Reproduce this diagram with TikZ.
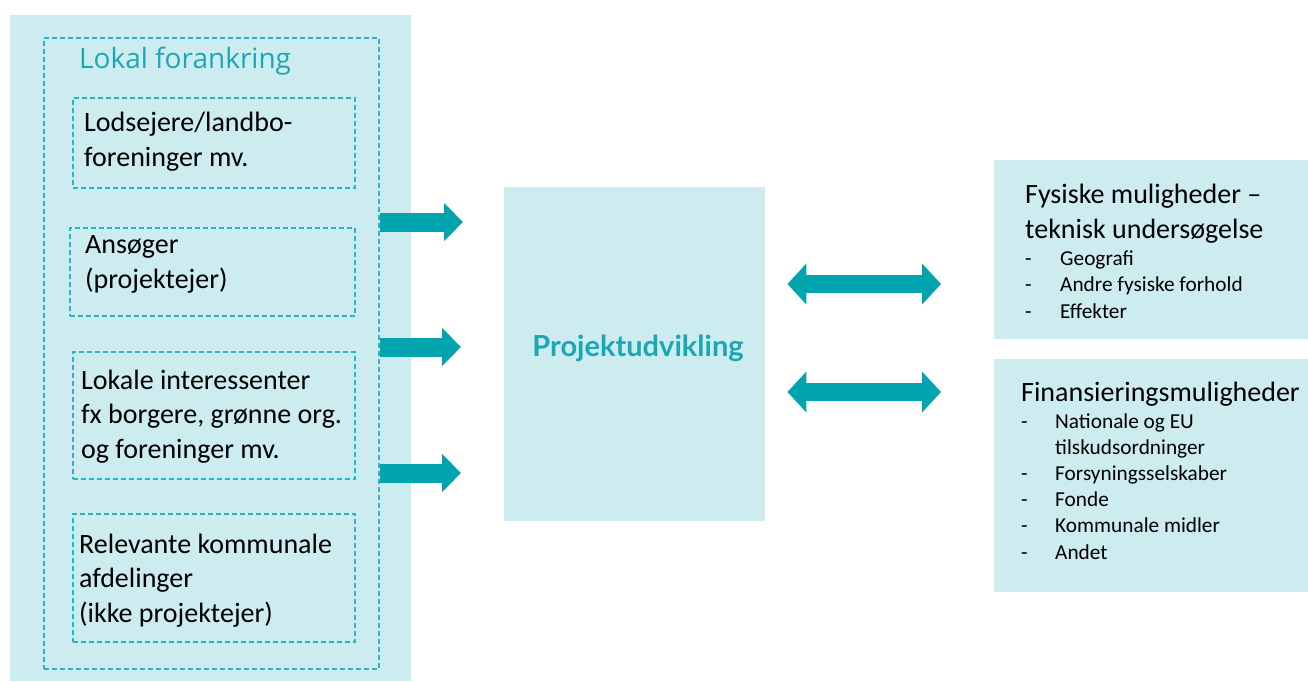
\documentclass[tikz,border=0pt]{standalone}
\usepackage{fontspec}
\setmainfont{Carlito}
\newfontfamily\headfont{Lato}
\newfontfamily\titlefont{Open Sans}
\usetikzlibrary{arrows.meta}

\definecolor{boxfill}{RGB}{204,236,240}
\definecolor{arrowteal}{RGB}{0,164,174}
\definecolor{headteal}{RGB}{26,168,180}
\definecolor{dashteal}{RGB}{40,182,198}

\newcommand{\itemdash}[1]{\makebox[#1][l]{-}}

\begin{document}
\begin{tikzpicture}[x=1pt,y=-1pt,
  panel/.style={fill=boxfill, inner sep=0pt, anchor=north west},
  group box/.style={draw=dashteal, dash pattern=on 5pt off 3pt, line width=1.5pt, inner sep=0pt, anchor=north west},
  label text/.style={inner sep=0pt, anchor=base west, align=left, font=\fontsize{28}{34.5}\selectfont},
  item text/.style={inner sep=0pt, anchor=base west, align=left, font=\fontsize{21.3}{26.2}\selectfont},
  push arrow/.style={draw=arrowteal, line width=19pt, -{Triangle[length=19pt,width=37pt]}},
  swap arrow/.style={draw=arrowteal, line width=18pt, {Triangle[length=19pt,width=40pt]}-{Triangle[length=19pt,width=40pt]}}]

            \useasboundingbox (0,0) rectangle (1308,681);

            % left column (text nodes sit on their last baseline)
            \node[panel, minimum width=401pt, minimum height=666pt] (left) at (10,15) {};
            \node[group box, minimum width=335pt, minimum height=631pt] (lokal) at (43,37) {};
            \node[inner sep=0pt, anchor=base west, text=headteal, font=\titlefont\fontsize{28}{33}\selectfont] (lokaltitle) at (79,68) {Lokal forankring};

            \node[group box, minimum width=282pt, minimum height=90pt] (lods) at (72,97) {};
            \node[label text] (lodstext) at (84,166) {Lodsejere/landbo-\\foreninger mv.};
            \node[group box, minimum width=285pt, minimum height=88pt] (ans) at (69,227) {};
            \node[label text] (anstext) at (85,288) {Ansøger\\(projektejer)};
            \node[group box, minimum width=282pt, minimum height=127pt] (lokint) at (72,351) {};
            \node[label text] (lokinttext) at (81,458) {Lokale interessenter\\fx borgere, grønne org.\\og foreninger mv.};
            \node[group box, minimum width=282pt, minimum height=128pt] (komm) at (72,513) {};
            \node[label text] (kommtext) at (79,622) {Relevante kommunale\\afdelinger\\(ikke projektejer)};

            % middle
            \node[panel, minimum width=261pt, minimum height=334pt] (proj) at (504,187) {};
            \node[inner sep=0pt, anchor=base, text=headteal, font=\headfont\bfseries\fontsize{29}{34}\selectfont] (projtext) at (638,356) {Projektudvikling};

            % right column
            \node[panel, minimum width=314pt, minimum height=179pt] (fys) at (994,160) {};
            \node[label text] (fystext) at (1025,238) {Fysiske muligheder –\\teknisk undersøgelse};
            \node[item text] (fysitems) at (1025,318) {\itemdash{35pt}Geografi\\\itemdash{35pt}Andre fysiske forhold\\\itemdash{35pt}Effekter};

            \node[panel, minimum width=314pt, minimum height=233pt] (fin) at (994,359) {};
            \node[label text] (fintext) at (1021,401) {Finansieringsmuligheder};
            \node[item text] (finitems) at (1021,559) {\itemdash{34pt}Nationale og EU\\\hspace*{34pt}tilskudsordninger\\\itemdash{34pt}Forsyningsselskaber\\\itemdash{34pt}Fonde\\\itemdash{34pt}Kommunale midler\\\itemdash{34pt}Andet};

            \draw[push arrow, shorten >=41pt] (lokal.east |- 0,222) to (proj.west |- 0,222);
            \draw[push arrow, shorten >=43pt] (lokal.east |- 0,347) to (proj.west |- 0,347);
            \draw[push arrow, shorten >=43pt] (lokal.east |- 0,473) to (proj.west |- 0,473);
            \draw[swap arrow, shorten <=22pt, shorten >=53pt] (proj.east |- 0,284) to (fys.west |- 0,284);
            \draw[swap arrow, shorten <=22pt, shorten >=53pt] (proj.east |- 0,392) to (fin.west |- 0,392);

            ;
        \end{tikzpicture}
\end{document}
